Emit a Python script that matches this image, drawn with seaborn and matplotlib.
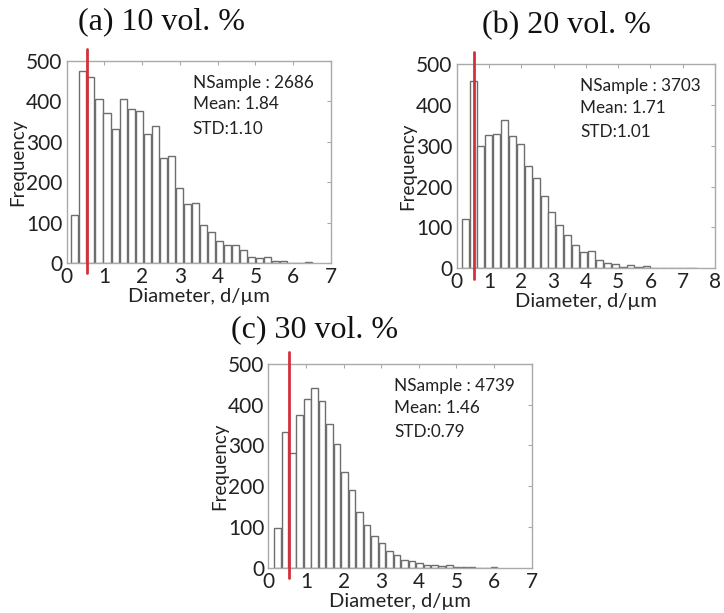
import numpy as np
import pandas as pd
import matplotlib
matplotlib.use("Agg")
import matplotlib.pyplot as plt
import seaborn as sns

# ---- data (30 bins per panel) ----
counts_a = [118, 475, 459, 405, 371, 331, 405, 381, 375, 318, 339, 260, 266, 185, 146,
            148, 94, 78, 55, 44, 44, 34, 16, 14, 16, 6, 6, 1, 0, 2]
counts_b = [120, 458, 300, 326, 329, 362, 324, 304, 250, 222, 177, 139, 105, 82, 56,
            39, 43, 20, 12, 11, 4, 7, 2, 5, 1, 1, 1, 1, 0, 1]
counts_c = [97, 333, 281, 374, 413, 441, 408, 352, 303, 236, 190, 137, 106, 79, 60,
            42, 31, 20, 16, 11, 7, 6, 4, 7, 2, 2, 1, 0, 0, 1]
range_a = (0.11, 6.50)
range_b = (0.14, 7.47)
range_c = (0.14, 6.10)
titles = ["(a) 10 vol. %", "(b) 20 vol. %", "(c) 30 vol. %"]
nsample = [2686, 3703, 4739]
means = ["1.84", "1.71", "1.46"]
stds = ["1.10", "1.01", "0.79"]
xmax = [7, 8, 7]
cut_line = 0.55

sns.set_style("white")
plt.rcParams["font.family"] = ["Lato", "DejaVu Sans"]

fig = plt.figure(figsize=(7.24, 6.13), dpi=100)
positions = [
    [0.0921, 0.5705, 0.3650, 0.3305],
    [0.6308, 0.5623, 0.3568, 0.3333],
    [0.3706, 0.0739, 0.3638, 0.3323],
]
title_xy = [(162 / 724, 1 - 22 / 613), (566 / 724, 1 - 26 / 613), (315 / 724, 1 - 330 / 613)]

for i, (counts, rng) in enumerate(zip([counts_a, counts_b, counts_c], [range_a, range_b, range_c])):
    ax = fig.add_axes(positions[i])
    nb = len(counts)
    w = (rng[1] - rng[0]) / nb
    centers = rng[0] + w * (np.arange(nb) + 0.5)
    df = pd.DataFrame({"d": centers, "n": counts})
    sns.histplot(data=df, x="d", weights="n", bins=nb, binrange=rng, ax=ax, shrink=0.88,
                 color="white", edgecolor="#6e6e6e", linewidth=1.0, alpha=1)
    ax.axvline(cut_line, ymin=-0.05, ymax=1.06, color="#d3313a", lw=2, clip_on=False, zorder=5)
    ax.set_xlim(0, xmax[i])
    ax.set_ylim(0, 500)
    ax.set_xticks(range(0, xmax[i] + 1))
    ax.set_yticks(range(0, 501, 100))
    ax.tick_params(direction="in", top=True, right=True, length=3, color="#aaaaaa",
                   labelsize=15, labelcolor="#222222")
    ax.tick_params(axis="x", pad=3)
    ax.tick_params(axis="y", pad=3)
    for s in ax.spines.values():
        s.set_color("#aaaaaa")
        s.set_linewidth(1)
    ax.set_xlabel("Diameter, d/\u00b5m", fontsize=14.5, labelpad=0.5, color="#222222")
    ax.set_ylabel("Frequency", fontsize=13.5, labelpad=0, color="#222222")
    ax.text(0.477, 0.891, f"NSample : {nsample[i]}", transform=ax.transAxes, fontsize=12.3,
            va="center", ha="left", color="#222222")
    ax.text(0.477, 0.784, f"Mean: {means[i]}", transform=ax.transAxes, fontsize=12.3,
            va="center", ha="left", color="#222222")
    ax.text(0.477, 0.665, f"STD:{stds[i]}", transform=ax.transAxes, fontsize=12.3,
            va="center", ha="left", color="#222222")
    fig.text(title_xy[i][0], title_xy[i][1], titles[i], fontsize=23, ha="center", va="center",
             family="Liberation Serif", color="#111111")

fig.savefig("out.png", dpi=100)
